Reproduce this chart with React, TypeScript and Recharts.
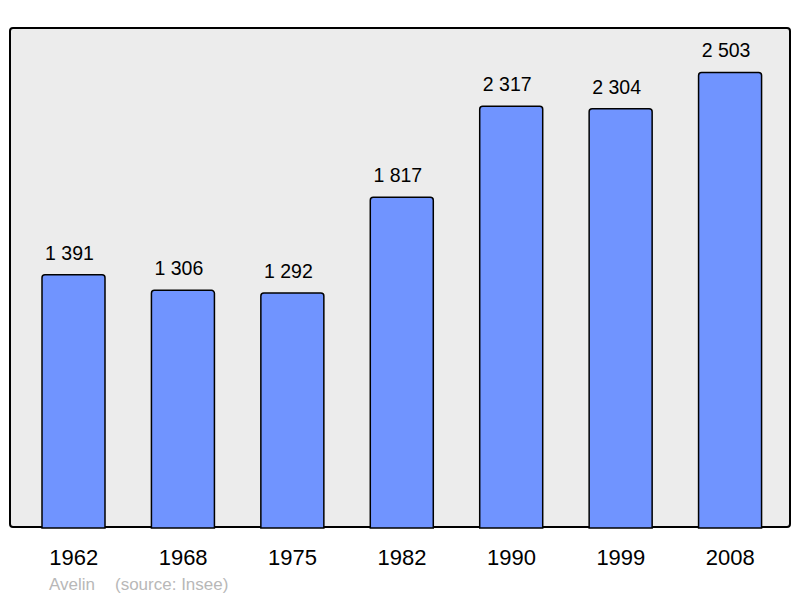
import React from 'react';
import { BarChart, Bar, XAxis, YAxis, LabelList } from 'recharts';

const years = ['1962', '1968', '1975', '1982', '1990', '1999', '2008'];
const population = [1391, 1306, 1292, 1817, 2317, 2304, 2503];
const footerName = 'Avelin';
const footerSource = '(source: Insee)';

const data = years.map((y, i) => ({ year: y, pop: population[i] }));

const fmt = (v: number) => String(v).replace(/\B(?=(\d{3})+(?!\d))/g, ' ');

export default function App() {
  const font = '"Liberation Sans", Arial, sans-serif';
  return (
    <div style={{ position: 'absolute', left: 0, top: 0, width: 800, height: 598, background: '#fff', fontFamily: font }}>
      <div
        style={{
          position: 'absolute',
          left: 9,
          top: 27,
          width: 782,
          height: 501,
          boxSizing: 'border-box',
          border: '2px solid #000',
          borderRadius: 4,
          background: '#ececec',
        }}
      />
      <div style={{ position: 'absolute', left: 0, top: 0 }}>
        <BarChart width={800} height={598} data={data} margin={{ top: 27, right: 9, bottom: 0, left: 9 }}>
          <XAxis
            dataKey="year"
            axisLine={false}
            tickLine={false}
            height={70}
            padding={{ left: 10, right: 6 }}
            tick={{ fill: '#000', fontSize: 22, fontFamily: font }}
            tickMargin={15}
          />
          <YAxis hide domain={[0, 2753]} />
          <Bar dataKey="pop" fill="#7094ff" stroke="#000" strokeWidth={1.5} barSize={63} radius={[3, 3, 0, 0]} isAnimationActive={false}>
            <LabelList
              dataKey="pop"
              position="top"
              offset={15}
              dx={-4}
              formatter={(v: any) => fmt(Number(v))}
              style={{ fill: '#000', fontSize: 19.5, fontFamily: font }}
            />
          </Bar>
        </BarChart>
      </div>
      <svg width={800} height={598} style={{ position: 'absolute', left: 0, top: 0, pointerEvents: 'none' }}>
        <text x={49} y={590} fontSize={17} fill="#b8b8b8" fontFamily={font}>
          {footerName}
        </text>
        <text x={115} y={590} fontSize={17} fill="#b8b8b8" fontFamily={font}>
          {footerSource}
        </text>
      </svg>
    </div>
  );
}
